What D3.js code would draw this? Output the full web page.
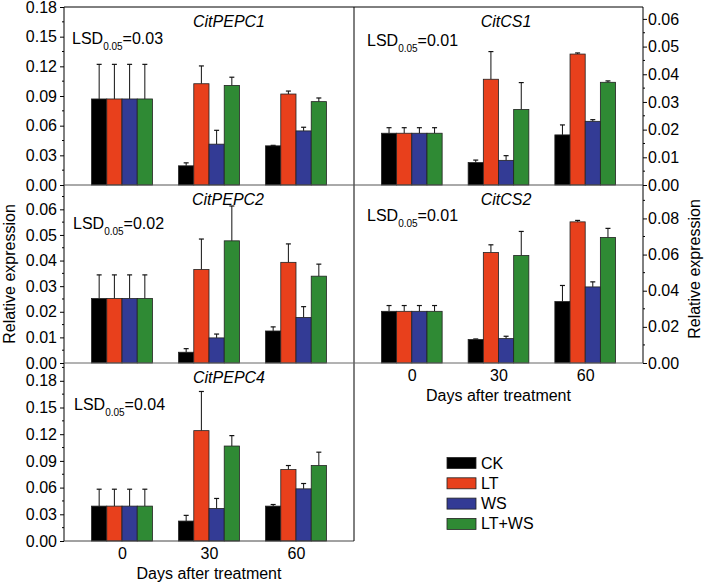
<!DOCTYPE html>
<html><head><meta charset="utf-8">
<script src="https://cdn.jsdelivr.net/npm/d3@7/dist/d3.min.js"></script>
<style>body{margin:0;background:#fff}svg{display:block;font-family:"Liberation Sans",Arial,sans-serif}</style>
</head><body><svg id="c" width="710" height="582"></svg>
<script>
const days = [0, 30, 60];
const treatments = ["CK", "LT", "WS", "LT+WS"];
const colors = ["#000000", "#e8401c", "#333b95", "#2f8a34"];

// means [day][treatment]
const pepc1Mean = [[0.087,0.087,0.087,0.087],[0.0194,0.1024,0.0413,0.1007],[0.0396,0.0920,0.0547,0.0843]];
const pepc1Err  = [[0.035,0.035,0.035,0.035],[0.003,0.018,0.014,0.0083],[0.0005,0.003,0.0037,0.0037]];
const cs1Mean   = [[0.0187,0.0187,0.0187,0.0187],[0.0081,0.0382,0.0089,0.0273],[0.0181,0.0473,0.0230,0.0371]];
const cs1Err    = [[0.002,0.002,0.002,0.002],[0.0009,0.010,0.0017,0.0097],[0.0036,0.0004,0.0006,0.0005]];
const pepc2Mean = [[0.0252,0.0252,0.0252,0.0252],[0.0042,0.0365,0.0098,0.0477],[0.0125,0.0393,0.0178,0.0339]];
const pepc2Err  = [[0.0092,0.0092,0.0092,0.0092],[0.0014,0.0119,0.0015,0.0136],[0.0016,0.0072,0.0042,0.0047]];
const cs2Mean   = [[0.0286,0.0286,0.0286,0.0286],[0.0130,0.0611,0.0135,0.0595],[0.0340,0.0781,0.0421,0.0695]];
const cs2Err    = [[0.0032,0.0032,0.0032,0.0032],[0.0003,0.0043,0.0013,0.0133],[0.0089,0.0008,0.0028,0.0050]];
const pepc4Mean = [[0.0392,0.0392,0.0392,0.0392],[0.0224,0.124,0.0366,0.1067],[0.0392,0.0803,0.0586,0.0848]];
const pepc4Err  = [[0.019,0.019,0.019,0.019],[0.0064,0.044,0.0112,0.0117],[0.0018,0.0045,0.006,0.015]];

const geneNames = ["CitPEPC1", "CitCS1", "CitPEPC2", "CitCS2", "CitPEPC4"];
const lsdLabels = ["0.03", "0.01", "0.02", "0.01", "0.04"];
const yMax = [0.18, 0.0643, 0.0695, 0.0985, 0.2];
const yTickStep = [0.03, 0.01, 0.01, 0.02, 0.03];
const yTickMax = [0.18, 0.06, 0.06, 0.08, 0.18];
const xTickLabels = ["0", "30", "60"];
const xTitle = "Days after treatment";
const yTitle = "Relative expression";

const svg = d3.select("#c");
const font = 16;

// layout
const colX = [[64, 354], [354, 643]];
const rowY = [[7, 185], [185, 363], [363, 541]];
const panels = [
  {mean: pepc1Mean, err: pepc1Err, col: 0, row: 0, side: "left", tx: 229, lx: 72, ly: 44},
  {mean: cs1Mean, err: cs1Err, col: 1, row: 0, side: "right", tx: 506, lx: 367, ly: 46},
  {mean: pepc2Mean, err: pepc2Err, col: 0, row: 1, side: "left", tx: 228, lx: 73, ly: 229},
  {mean: cs2Mean, err: cs2Err, col: 1, row: 1, side: "right", tx: 506, lx: 367, ly: 221},
  {mean: pepc4Mean, err: pepc4Err, col: 0, row: 2, side: "left", tx: 229, lx: 74, ly: 410}
];

panels.forEach((p, i) => {
  const [x0, x1] = colX[p.col];
  const [yt, yb] = rowY[p.row];
  const x = d3.scaleLinear().domain([-20, 80]).range([x0, x1]);
  const y = d3.scaleLinear().domain([0, yMax[i]]).range([yb, yt]);
  const bw = 5.25; // bar width in day units
  const g = svg.append("g");

  days.forEach((d, di) => {
    treatments.forEach((t, ti) => {
      const bx = x(d - 2 * bw + ti * bw);
      const w = x(bw) - x(0);
      const v = p.mean[di][ti], e = p.err[di][ti];
      const cx = bx + w / 2;
      g.append("line").attr("x1", cx).attr("x2", cx).attr("y1", y(v)).attr("y2", y(v + e))
        .attr("stroke", "#111").attr("stroke-width", 1);
      g.append("line").attr("x1", cx - 2.5).attr("x2", cx + 2.5).attr("y1", y(v + e)).attr("y2", y(v + e))
        .attr("stroke", "#111").attr("stroke-width", 1.2);
      g.append("rect").attr("x", bx).attr("y", y(v)).attr("width", w).attr("height", y(0) - y(v))
        .attr("fill", colors[ti]).attr("stroke", "#222").attr("stroke-width", 0.8);
    });
  });

  const ticks = d3.range(0, yTickMax[i] + 1e-9, yTickStep[i]);
  const minor = d3.range(yTickStep[i] / 2, yMax[i], yTickStep[i]);
  let axis;
  if (p.side === "left") {
    axis = d3.axisLeft(y).tickValues(ticks).tickFormat(d3.format(".2f")).tickSize(4).tickPadding(3);
    const ag = svg.append("g").attr("transform", `translate(${x0},0)`).call(axis);
    ag.select(".domain").remove();
    ag.selectAll("text").attr("font-size", font).attr("fill", "#000").attr("font-family", "Liberation Sans, Arial");
    ag.selectAll("line").attr("stroke", "#000");
    minor.forEach(m => svg.append("line").attr("x1", x0 - 2).attr("x2", x0).attr("y1", y(m)).attr("y2", y(m)).attr("stroke", "#000"));
  } else {
    axis = d3.axisRight(y).tickValues(ticks).tickFormat(d3.format(".2f")).tickSize(4).tickPadding(1);
    const ag = svg.append("g").attr("transform", `translate(${x1},0)`).call(axis);
    ag.select(".domain").remove();
    ag.selectAll("text").attr("font-size", font).attr("fill", "#000").attr("font-family", "Liberation Sans, Arial");
    ag.selectAll("line").attr("stroke", "#000");
    minor.forEach(m => svg.append("line").attr("x1", x1).attr("x2", x1 + 2).attr("y1", y(m)).attr("y2", y(m)).attr("stroke", "#000"));
  }

  svg.append("text").attr("x", p.tx).attr("y", yt + 20).attr("text-anchor", "middle")
    .attr("font-size", font).attr("font-style", "italic").text(geneNames[i]);
  const lt = svg.append("text").attr("x", p.lx).attr("y", p.ly).attr("font-size", font);
  lt.append("tspan").text("LSD");
  lt.append("tspan").attr("font-size", 10).attr("dy", 6).text("0.05");
  lt.append("tspan").attr("dy", -6).text("=" + lsdLabels[i]);

  if ((p.col === 0 && p.row === 2) || (p.col === 1 && p.row === 1)) {
    const xa = d3.axisBottom(x).tickValues(days).tickFormat((d, k) => xTickLabels[k]).tickSize(0).tickPadding(7);
    const ag = svg.append("g").attr("transform", `translate(0,${yb})`).call(xa);
    ag.select(".domain").remove();
    ag.selectAll("text").attr("font-size", font).attr("fill", "#000").attr("font-family", "Liberation Sans, Arial");
    svg.append("text").attr("x", x(30)).attr("y", yb + 38).attr("text-anchor", "middle")
      .attr("font-size", font).text(xTitle);
  }
});

const L = (x1, y1, x2, y2, c) => svg.append("line").attr("x1", x1).attr("y1", y1).attr("x2", x2).attr("y2", y2)
  .attr("stroke", c || "#000").attr("stroke-width", 1);
L(64, 7, 643, 7);
L(64, 7, 64, 541);
L(64, 541, 354, 541, "#444");
L(354, 7, 354, 541);
L(643, 7, 643, 363);
L(64, 185, 643, 185, "#555");
L(64, 363, 643, 363, "#666");

svg.append("text").attr("transform", "translate(15,274) rotate(-90)").attr("text-anchor", "middle")
  .attr("font-size", font).text(yTitle);
svg.append("text").attr("transform", "translate(700,269) rotate(-90)").attr("text-anchor", "middle")
  .attr("font-size", font).text(yTitle);

treatments.forEach((t, i) => {
  const ly = 457.5 + i * 20.3;
  svg.append("rect").attr("x", 447).attr("y", ly).attr("width", 29).attr("height", 11)
    .attr("fill", colors[i]).attr("stroke", "#222").attr("stroke-width", 0.8);
  svg.append("text").attr("x", 481).attr("y", ly + 11).attr("font-size", font).text(t);
});
</script></body></html>
